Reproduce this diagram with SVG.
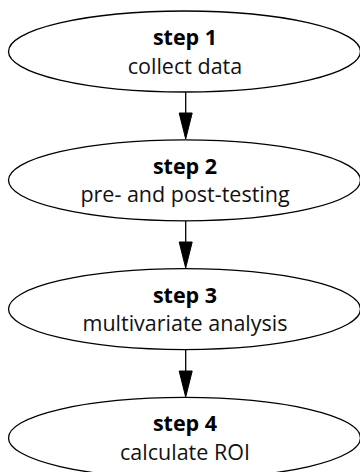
<svg xmlns="http://www.w3.org/2000/svg" width="360" height="472" viewBox="0 0 360 472">
<defs>
<style>
.node ellipse{fill:#fff;stroke:#000;stroke-width:1.3}
.t1{font-family:"Open Sans","DejaVu Sans",sans-serif;font-weight:bold;font-size:21.5px;text-anchor:middle;fill:#000}
.t2{font-family:"Open Sans","DejaVu Sans",sans-serif;font-size:21.5px;text-anchor:middle;fill:#111}
.edges line{stroke:#000;stroke-width:1.3}
.edges polygon{fill:#000;stroke:#000;stroke-width:1}
</style>
</defs>
<rect width="360" height="472" fill="#fff"/>
<g class="edges" id="connectors">
<line x1="185.7" y1="92" x2="185.7" y2="115"/>
<polygon points="179.2,113 192.2,113 185.7,139"/>
<line x1="185.7" y1="220.8" x2="185.7" y2="244"/>
<polygon points="179.2,242 192.2,242 185.7,268"/>
<line x1="185.7" y1="349.6" x2="185.7" y2="373"/>
<polygon points="179.2,371 192.2,371 185.7,397"/>
</g>
<g class="node" id="step1">
<ellipse cx="184.5" cy="51.5" rx="176" ry="40.5"/>
<text class="t1" x="185" y="45">step 1</text>
<text class="t2" x="185" y="73.5">collect data</text>
</g>
<g class="node" id="step2">
<ellipse cx="184.5" cy="180.3" rx="176" ry="40.5"/>
<text class="t1" x="185" y="173.8">step 2</text>
<text class="t2" x="185" y="202.3">pre- and post-testing</text>
</g>
<g class="node" id="step3">
<ellipse cx="184.5" cy="309.1" rx="176" ry="40.5"/>
<text class="t1" x="185" y="302.6">step 3</text>
<text class="t2" x="185" y="331.1">multivariate analysis</text>
</g>
<g class="node" id="step4">
<ellipse cx="184.5" cy="437.9" rx="176" ry="40.5"/>
<text class="t1" x="185" y="431.4">step 4</text>
<text class="t2" x="185" y="459.9">calculate ROI</text>
</g>
</svg>
